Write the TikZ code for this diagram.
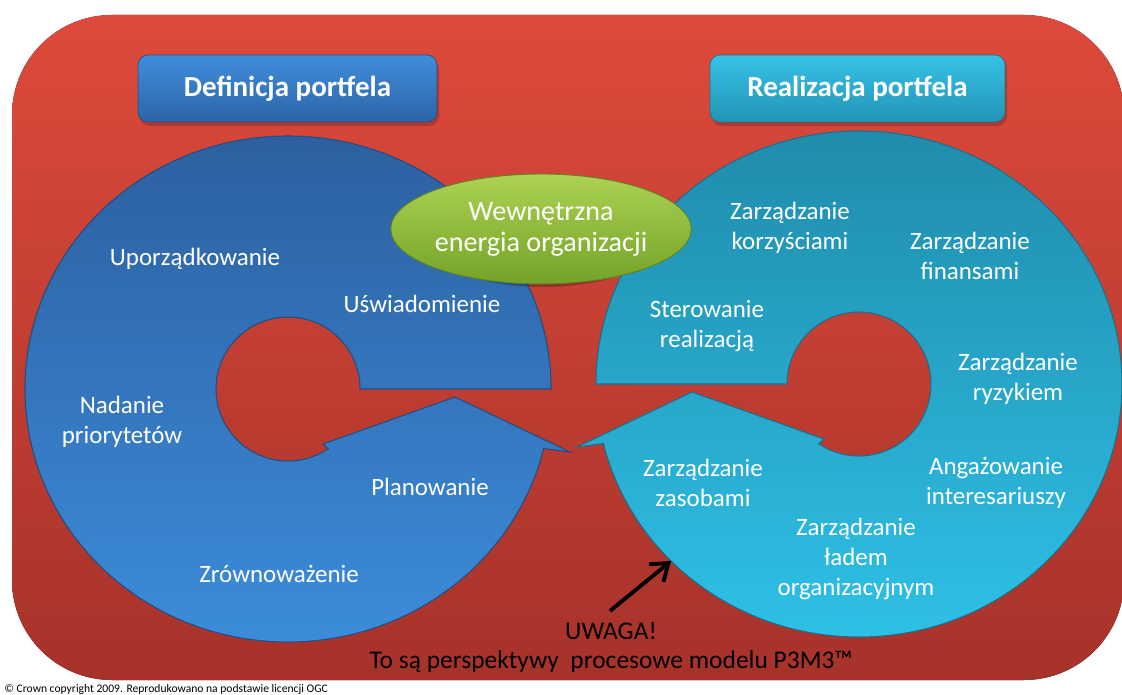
\documentclass[tikz,border=0pt]{standalone}
\usepackage{fontspec}
\setmainfont{Carlito}
\usetikzlibrary{shapes.geometric,arrows.meta}
\definecolor{redtop}{RGB}{222,74,60}
\definecolor{redbot}{RGB}{166,50,42}
\definecolor{ltop}{RGB}{44,96,160}
\definecolor{lbot}{RGB}{60,140,218}
\definecolor{rtop}{RGB}{32,140,172}
\definecolor{rbot}{RGB}{46,192,230}
\definecolor{gtop}{RGB}{172,210,82}
\definecolor{gbot}{RGB}{116,162,40}
\definecolor{tbtopl}{RGB}{64,142,220}
\definecolor{tbbotl}{RGB}{44,100,166}
\definecolor{tbtopr}{RGB}{54,194,230}
\definecolor{tbbotr}{RGB}{34,148,182}
\begin{document}
\begin{tikzpicture}[x=0.02cm,y=-0.02cm,
  lbl/.style={text=white, align=center, font=\fontsize{14.2}{17}\selectfont, inner sep=0pt},
  titlebox/.style={rounded corners=0.2cm, minimum width=5.98cm, minimum height=1.34cm,
    text=white, font=\fontsize{16.5}{20}\selectfont\bfseries},
  boxshadow/.style={fill=black, opacity=0.18, rounded corners=0.2cm},
  leftshape/.style={top color=ltop, bottom color=lbot, draw=ltop!80!black, line width=0.6pt},
  rightshape/.style={top color=rtop, bottom color=rbot, draw=rtop!80!black, line width=0.6pt},
  hint/.style={line width=2.2pt, -{Straight Barb[length=9pt, width=13pt, line width=2.2pt]}}
]
\useasboundingbox (0,0) rectangle (1122,695);
\fill[white] (0,0) rectangle (1122,695);
% background
\fill[top color=redtop, bottom color=redbot, rounded corners=2cm] (12,15) rectangle (1124,680);
% title boxes
\fill[boxshadow] (140,59) rectangle (439,126);
\fill[boxshadow] (712,59) rectangle (1007,126);
\node[titlebox, top color=tbtopl, bottom color=tbbotl, draw=tbbotl!80!black] (defin) at (287.5,88.5) {Definicja portfela};
\node[titlebox, top color=tbtopr, bottom color=tbbotr, draw=tbbotr!80!black, minimum width=5.9cm] (realiz) at (857.5,88.5) {Realizacja portfela};
% left circular arrow
\path[leftshape] (551,389) arc[start angle=0, end angle=-346.4, x radius=263, y radius=253]
  -- (570,452) -- (455,397) -- (323,444) -- (328.3,448.7)
  arc[start angle=56, end angle=360, radius=72] -- cycle;
% right circular arrow (mirror)
\begin{scope}[shift={(1147,-5)}, xscale=-1]
\path[rightshape] (551,389) arc[start angle=0, end angle=-346.4, x radius=263, y radius=253]
  -- (570,452) -- (455,397) -- (323,444) -- (328.3,448.7)
  arc[start angle=56, end angle=360, radius=72] -- cycle;
\end{scope}
% centre ellipse
\fill[black, opacity=0.25] (543,232) ellipse[x radius=125, y radius=55];
\node[ellipse, minimum width=5cm, minimum height=2.2cm, top color=gtop, bottom color=gbot,
  draw=gbot!80!black, line width=0.5pt, text=white, align=center,
  font=\fontsize{16}{17.6}\selectfont, inner sep=0pt] (energy) at (541,229)
  {Wewnętrzna\\energia organizacji};
% left labels
\node[lbl] (upo) at (195,259) {Uporządkowanie};
\node[lbl] (usw) at (422,304) {Uświadomienie};
\node[lbl] (nad) at (122,422) {Nadanie\\priorytetów};
\node[lbl] (pla) at (430,487) {Planowanie};
\node[lbl] (zro) at (279,574) {Zrównoważenie};
% right labels
\node[lbl] (kor) at (790,228) {Zarządzanie\\korzyściami};
\node[lbl] (fin) at (970,256) {Zarządzanie\\finansami};
\node[lbl] (ste) at (707,326) {Sterowanie\\realizacją};
\node[lbl] (ryz) at (1018,379) {Zarządzanie\\ryzykiem};
\node[lbl] (zas) at (703,483) {Zarządzanie\\zasobami};
\node[lbl] (ang) at (996,483) {Angażowanie\\interesariuszy};
\node[lbl] (lad) at (856,559) {Zarządzanie\\ładem\\organizacyjnym};
% note
\node[text=black, align=center, font=\fontsize{14.5}{16.5}\selectfont, inner sep=0pt] (uwaga) at (611,647)
  {UWAGA!\\To są perspektywy\ \ procesowe modelu P3M3™};
\coordinate (arrS) at (610,611);
\coordinate (arrE) at (671,561);
\draw[hint] (arrS) -- (arrE);
% copyright
\node[anchor=west, text=black, font=\fontsize{6.6}{8}\selectfont, inner sep=0pt] (copy) at (4,689)
  {© Crown copyright 2009. Reprodukowano na podstawie licencji OGC};
\end{tikzpicture}
\end{document}
